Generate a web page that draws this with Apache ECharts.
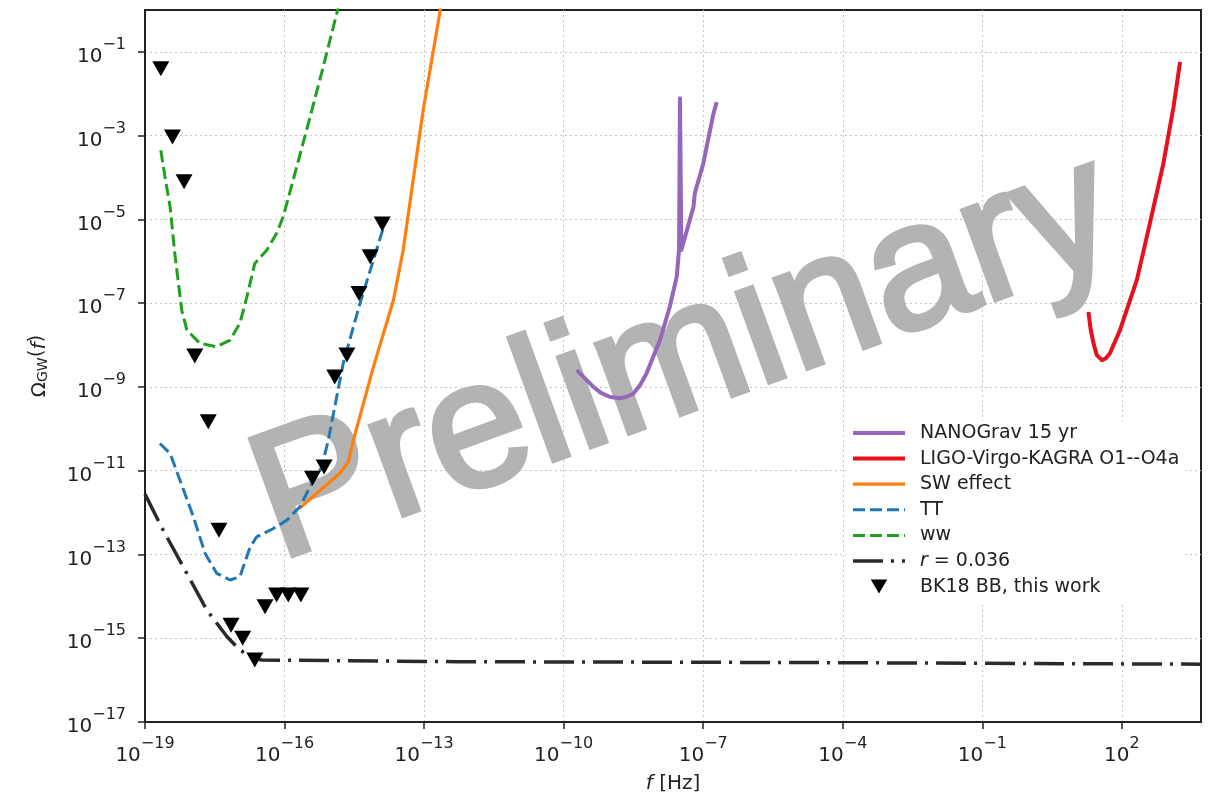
<!DOCTYPE html>
<html>
<head>
<meta charset="utf-8">
<script src="https://cdn.jsdelivr.net/npm/echarts@6/dist/echarts.min.js"></script>
<style>
  html, body { margin: 0; padding: 0; background: #ffffff; }
  #chart { width: 1217px; height: 801px; }
</style>
</head>
<body>
<div id="chart"></div>
<script>
// Every coordinate below is a base-10 exponent: log10(f / Hz) and log10(Omega_GW).
const xTickExponents = [-19, -16, -13, -10, -7, -4, -1, 2];
const yTickExponents = [-17, -15, -13, -11, -9, -7, -5, -3, -1];

// NANOGrav 15 yr sensitivity
const nanogravLogF     = [-9.72, -9.36, -9.20, -9.00, -8.79, -8.66, -8.50, -8.36, -8.22, -7.93, -7.72, -7.57, -7.52, -7.50, -7.47, -7.21, -7.18, -7.00, -6.78, -6.71];
const nanogravLogOmega = [-8.60, -9.00, -9.14, -9.24, -9.27, -9.24, -9.16, -8.96, -8.68, -7.88, -7.09, -6.37, -5.73, -2.11, -5.73, -4.70, -4.37, -3.67, -2.47, -2.20];

// LIGO-Virgo-KAGRA O1--O4a
const ligoLogF     = [1.28, 1.33, 1.39, 1.46, 1.57, 1.65, 1.74, 1.96, 2.32, 2.60, 2.89, 3.11, 3.25];
const ligoLogOmega = [-7.21, -7.64, -7.96, -8.24, -8.36, -8.32, -8.20, -7.64, -6.45, -5.10, -3.67, -2.31, -1.24];

// SW effect
const swLogF     = [-15.68, -15.31, -14.81, -14.63, -14.52, -14.09, -13.66, -13.45, -13.02, -12.66, -12.62];
const swLogOmega = [-11.90, -11.54, -11.06, -10.79, -10.27, -8.52, -6.93, -5.73, -2.39, -0.05, 0.23];

// TT
const ttLogF     = [-18.68, -18.46, -18.25, -17.96, -17.71, -17.46, -17.17, -16.96, -16.74, -16.60, -16.24, -15.95, -15.67, -15.45, -15.20, -15.06, -14.74, -14.38, -14.09, -13.88];
const ttLogOmega = [-10.35, -10.59, -11.22, -12.10, -12.97, -13.45, -13.61, -13.53, -12.82, -12.58, -12.38, -12.18, -11.86, -11.38, -10.91, -10.27, -8.44, -7.01, -5.97, -5.21];

// ww
const wwLogF     = [-18.66, -18.57, -18.46, -18.36, -18.28, -18.21, -18.10, -17.82, -17.46, -17.17, -16.96, -16.81, -16.64, -16.38, -16.17, -16.03, -15.74, -15.45, -15.17, -14.88, -14.81];
const wwLogOmega = [-3.35, -3.99, -4.70, -5.81, -6.53, -7.17, -7.64, -7.96, -8.04, -7.88, -7.48, -6.85, -6.05, -5.73, -5.33, -4.94, -3.75, -2.55, -1.36, -0.09, 0.23];

// r = 0.036 tensor spectrum
const tensorLogF     = [-19.00, -18.61, -18.18, -17.67, -17.24, -16.96, -16.67, -16.49, -12.30, -4.92, 3.70];
const tensorLogOmega = [-11.56, -12.42, -13.29, -14.33, -14.96, -15.28, -15.48, -15.52, -15.56, -15.58, -15.62];

// BK18 BB upper limits
const bk18LogF     = [-18.66, -18.41, -18.16, -17.93, -17.64, -17.41, -17.15, -16.90, -16.64, -16.42, -16.17, -15.92, -15.65, -15.40, -15.15, -14.92, -14.66, -14.40, -14.16, -13.90];
const bk18LogOmega = [-1.40, -3.03, -4.10, -8.26, -9.83, -12.42, -14.69, -15.00, -15.52, -14.25, -13.97, -13.97, -13.97, -11.18, -10.91, -8.76, -8.24, -6.77, -5.89, -5.11];

const seriesNames = ['NANOGrav 15 yr', 'LIGO-Virgo-KAGRA O1--O4a', 'SW effect', 'TT', 'ww', 'r = 0.036', 'BK18 BB, this work'];

const FONT = 'DejaVu Sans';
const TEXT = '#222222';
const WATERMARK = '#b3b3b3';
const DOWN_TRIANGLE = 'path://M0,0 L20,0 L10,17 Z';

function pairs(xs, ys) { return xs.map((x, i) => [x, ys[i]]); }

function powerLabel(v) {
  const e = Math.round(v);
  const s = e < 0 ? '\u2212' + Math.abs(e) : String(e);
  return '{b|10}{s|' + s + '}';
}
const powerRich = {
  b: { fontFamily: FONT, fontSize: 20, color: TEXT, lineHeight: 30, verticalAlign: 'bottom' },
  s: { fontFamily: FONT, fontSize: 16, color: TEXT, lineHeight: 16, verticalAlign: 'top' }
};

function lineSeries(name, xs, ys, color, width, dash, z) {
  return {
    name: name, type: 'line', data: pairs(xs, ys),
    showSymbol: false, symbol: 'none', clip: true, z: z,
    lineStyle: { color: color, width: width, type: dash || 'solid', cap: 'butt', join: 'round' },
    itemStyle: { color: color }
  };
}

const chart = echarts.init(document.getElementById('chart'), null, { renderer: 'canvas' });

chart.setOption({
  animation: false,
  backgroundColor: '#ffffff',
  grid: {
    left: 145, right: 16, top: 10, bottom: 79,
    show: true, borderColor: '#222222', borderWidth: 2, backgroundColor: 'transparent'
  },
  xAxis: {
    type: 'value', min: -19, max: 3.7, interval: 3,
    axisLine: { show: true, onZero: false, lineStyle: { color: '#222222', width: 2 } },
    axisTick: { show: true, length: 7, customValues: xTickExponents, lineStyle: { color: '#222222', width: 1.5 } },
    axisLabel: { customValues: xTickExponents, margin: 14, formatter: powerLabel, rich: powerRich },
    splitLine: { show: true, lineStyle: { color: '#c4c4c4', width: 1, type: [2, 3] } },
    name: '{i|f} [Hz]', nameLocation: 'middle', nameGap: 52,
    nameTextStyle: {
      fontFamily: FONT, fontSize: 20, color: TEXT,
      rich: { i: { fontFamily: FONT, fontSize: 20, color: TEXT, fontStyle: 'italic' } }
    }
  },
  yAxis: {
    type: 'value', min: -17, max: 0, interval: 2,
    axisLine: { show: true, onZero: false, lineStyle: { color: '#222222', width: 2 } },
    axisTick: { show: true, length: 7, customValues: yTickExponents, lineStyle: { color: '#222222', width: 1.5 } },
    axisLabel: { customValues: yTickExponents, margin: 19, formatter: powerLabel, rich: powerRich },
    splitLine: { show: true, lineStyle: { color: '#c4c4c4', width: 1, type: [2, 3] } },
    name: '{o|\u03A9}{g|GW}({i|f})', nameLocation: 'middle', nameGap: 95,
    nameTextStyle: {
      fontFamily: FONT, fontSize: 20, color: TEXT,
      rich: {
        o: { fontFamily: FONT, fontSize: 20, color: TEXT, lineHeight: 26, verticalAlign: 'bottom' },
        g: { fontFamily: FONT, fontSize: 14, color: TEXT, lineHeight: 14, verticalAlign: 'bottom' },
        i: { fontFamily: FONT, fontSize: 20, color: TEXT, fontStyle: 'italic', lineHeight: 26, verticalAlign: 'bottom' }
      }
    }
  },
  legend: {
    orient: 'vertical', left: 846, top: 421,
    padding: [2, 6, 6, 5], itemGap: 5.6, itemWidth: 52, itemHeight: 14,
    backgroundColor: '#ffffff', borderWidth: 0,
    itemStyle: { opacity: 0 },
    lineStyle: { width: 'inherit', type: 'inherit', opacity: 1 },
    data: seriesNames.map(n => n === 'BK18 BB, this work'
      ? { name: n, icon: DOWN_TRIANGLE, itemStyle: { opacity: 1, color: '#000000' } }
      : { name: n }),
    formatter: n => n === 'r = 0.036' ? '{i|r} = 0.036' : n,
    textStyle: {
      fontFamily: FONT, fontSize: 19, color: TEXT, lineHeight: 20, padding: [0, 0, 0, 10],
      rich: { i: { fontFamily: FONT, fontSize: 19, color: TEXT, fontStyle: 'italic' } }
    }
  },
  graphic: [{
    type: 'text', x: 685, y: 360, rotation: 20 * Math.PI / 180, z: 1, silent: true,
    style: {
      text: 'Preliminary', fontFamily: 'Liberation Sans', fontWeight: 'normal', fontSize: 180,
      fill: WATERMARK, stroke: WATERMARK, lineWidth: 5,
      align: 'center', verticalAlign: 'middle', textAlign: 'center', textVerticalAlign: 'middle'
    }
  }],
  series: [
    lineSeries(seriesNames[0], nanogravLogF, nanogravLogOmega, '#9467bd', 4, null, 3),
    lineSeries(seriesNames[1], ligoLogF, ligoLogOmega, '#e8101c', 4, null, 3),
    lineSeries(seriesNames[2], swLogF, swLogOmega, '#ff7f0e', 3.2, null, 3),
    lineSeries(seriesNames[3], ttLogF, ttLogOmega, '#1f77b4', 3, [12, 5], 3),
    lineSeries(seriesNames[4], wwLogF, wwLogOmega, '#1fa01f', 3, [12, 5], 3),
    lineSeries(seriesNames[5], tensorLogF, tensorLogOmega, '#2a2a2a', 3.5, [30, 8, 3, 8], 3),
    {
      name: seriesNames[6], type: 'scatter', data: pairs(bk18LogF, bk18LogOmega),
      symbol: DOWN_TRIANGLE, symbolSize: [17, 15], symbolKeepAspect: false, z: 4,
      itemStyle: { color: '#000000', opacity: 1 }
    }
  ]
});
</script>
</body>
</html>
